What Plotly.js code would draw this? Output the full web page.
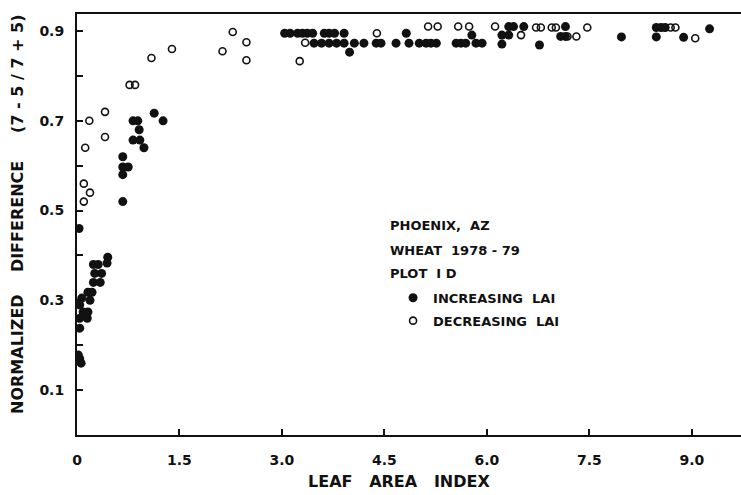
<!DOCTYPE html>
<html>
<head>
<meta charset="utf-8">
<script src="https://cdn.plot.ly/plotly-3.0.1.min.js"></script>
<style>html,body{margin:0;padding:0;background:#fff;}#chart{width:741px;height:495px;}</style>
</head>
<body>
<div id="chart"></div>
<script>
// Increasing LAI (filled circles)
const incX = [0.03,
  0.45,0.44,0.24,0.31,0.26,0.36,0.24,0.34,0.16,0.22,0.07,0.19,0.04,0.09,0.16,0.04,0.15,0.04,0.02,0.04,0.06,
  0.67,0.67,0.67,0.75,0.67,0.98,0.82,0.92,0.91,0.82,0.89,1.26,1.13,
  3.04,3.12,3.23,3.30,3.37,3.45,3.62,3.69,3.77,3.91,4.82,
  3.47,3.58,3.69,3.80,3.91,4.06,4.20,4.38,4.45,4.67,4.86,5.01,5.11,5.18,5.26,5.55,5.62,5.69,5.84,5.93,
  3.99,5.78,6.22,6.77,
  6.32,6.39,6.54,7.15,8.48,8.55,8.61,
  6.22,6.32,7.08,7.15,
  7.97,8.48,8.88,9.26];
const incY = [0.46,
  0.396,0.383,0.38,0.38,0.36,0.36,0.34,0.34,0.318,0.318,0.305,0.30,0.29,0.274,0.274,0.26,0.26,0.238,0.178,0.17,0.16,
  0.52,0.58,0.597,0.597,0.62,0.64,0.657,0.657,0.68,0.70,0.70,0.70,0.717,
  0.895,0.895,0.895,0.895,0.895,0.895,0.895,0.895,0.895,0.895,0.895,
  0.873,0.873,0.873,0.873,0.873,0.873,0.873,0.873,0.873,0.873,0.873,0.873,0.873,0.873,0.873,0.873,0.873,0.873,0.873,0.873,
  0.853,0.891,0.871,0.869,
  0.91,0.91,0.91,0.91,0.908,0.908,0.908,
  0.891,0.891,0.888,0.888,
  0.887,0.887,0.886,0.905];
// Decreasing LAI (open circles)
const decX = [0.18,0.41,0.41,0.12,0.10,0.19,0.10,0.77,0.85,1.09,1.39,2.13,2.28,2.48,2.48,
  3.34,3.26,4.39,5.14,5.28,5.58,5.74,6.12,6.50,6.72,6.79,6.95,7.01,7.18,7.31,7.47,8.69,8.76,9.05];
const decY = [0.70,0.72,0.664,0.64,0.56,0.54,0.52,0.78,0.78,0.84,0.86,0.855,0.898,0.875,0.835,
  0.874,0.833,0.895,0.91,0.91,0.91,0.91,0.91,0.891,0.908,0.908,0.908,0.908,0.888,0.888,0.908,0.908,0.908,0.884];

const xTickVals = [0,1.5,3.0,4.5,6.0,7.5,9.0];
const xTickText = ["0","1.5","3.0","4.5","6.0","7.5","9.0"];
const yTickVals = [0.1,0.2,0.3,0.4,0.5,0.6,0.7,0.8,0.9];
const yTickText = ["0.1","","0.3","","0.5","","0.7","","0.9"];
const noteLines = ["PHOENIX,&nbsp;&nbsp;AZ", "WHEAT&nbsp;&nbsp;1978 - 79", "PLOT&nbsp;&nbsp;I D"];
const noteY = [0.466, 0.412, 0.360];

const FONT = "DejaVu Sans, Liberation Sans, sans-serif";
const BLK = '#111';

const traces = [
  {x: incX, y: incY, type: 'scatter', mode: 'markers', name: 'INCREASING&nbsp;&nbsp;LAI', legendgroup: 'a',
   marker: {symbol: 'circle', size: 9, color: BLK}},
  {x: decX, y: decY, type: 'scatter', mode: 'markers', name: 'DECREASING&nbsp;&nbsp;LAI', legendgroup: 'b',
   marker: {symbol: 'circle-open', size: 7, color: BLK, line: {width: 1.6, color: BLK}}}
];

const annotations = noteLines.map((t, i) => ({
  text: t, x: 4.55, y: noteY[i], xref: 'x', yref: 'y', xanchor: 'left', yanchor: 'middle',
  showarrow: false, font: {family: FONT, size: 13, color: BLK, weight: 'bold'}
}));
annotations.push({
  text: 'NORMALIZED&nbsp;&nbsp;&nbsp;&nbsp;DIFFERENCE&nbsp;&nbsp;&nbsp;&nbsp;&nbsp;(7 - 5 / 7 + 5)',
  x: 0, xref: 'paper', xshift: -59, y: 0.525, yref: 'paper', textangle: -90,
  xanchor: 'center', yanchor: 'middle', showarrow: false,
  font: {family: FONT, size: 16, color: BLK, weight: 'bold'}
});
annotations.push({
  text: 'LEAF&nbsp;&nbsp;&nbsp;AREA&nbsp;&nbsp;&nbsp;INDEX',
  x: 4.71, xref: 'x', y: -0.1116, yref: 'paper', xanchor: 'center', yanchor: 'middle',
  showarrow: false, font: {family: FONT, size: 16, color: BLK, weight: 'bold'}
});

const layout = {
  width: 741, height: 495,
  margin: {l: 77, r: 0, t: 14, b: 60},
  paper_bgcolor: '#fff', plot_bgcolor: '#fff',
  font: {family: FONT, color: BLK, size: 13},
  showlegend: true,
  legend: {
    x: 0.476, y: 0.3615, xanchor: 'left', yanchor: 'top',
    bgcolor: 'rgba(0,0,0,0)',
    font: {family: FONT, size: 13, color: BLK, weight: 'bold'},
    tracegroupgap: 3
  },
  annotations: annotations,
  xaxis: {
    range: [0, 9.72], showgrid: false, zeroline: false,
    showline: true, linecolor: BLK, linewidth: 2, mirror: true,
    tickmode: 'array', tickvals: xTickVals, ticktext: xTickText,
    ticks: 'inside', ticklen: 6, tickwidth: 2, tickcolor: BLK,
    ticklabelstandoff: 11,
    tickfont: {family: FONT, size: 14, color: BLK, weight: 'bold'}
  },
  yaxis: {
    range: [0, 0.938], showgrid: false, zeroline: false,
    showline: true, linecolor: BLK, linewidth: 2, mirror: false,
    tickmode: 'array', tickvals: yTickVals, ticktext: yTickText,
    ticks: 'inside', ticklen: 6, tickwidth: 2, tickcolor: BLK,
    ticklabelstandoff: 8,
    tickfont: {family: FONT, size: 14, color: BLK, weight: 'bold'}
  }
};

Plotly.newPlot('chart', traces, layout, {displayModeBar: false, staticPlot: true});
</script>
</body>
</html>
